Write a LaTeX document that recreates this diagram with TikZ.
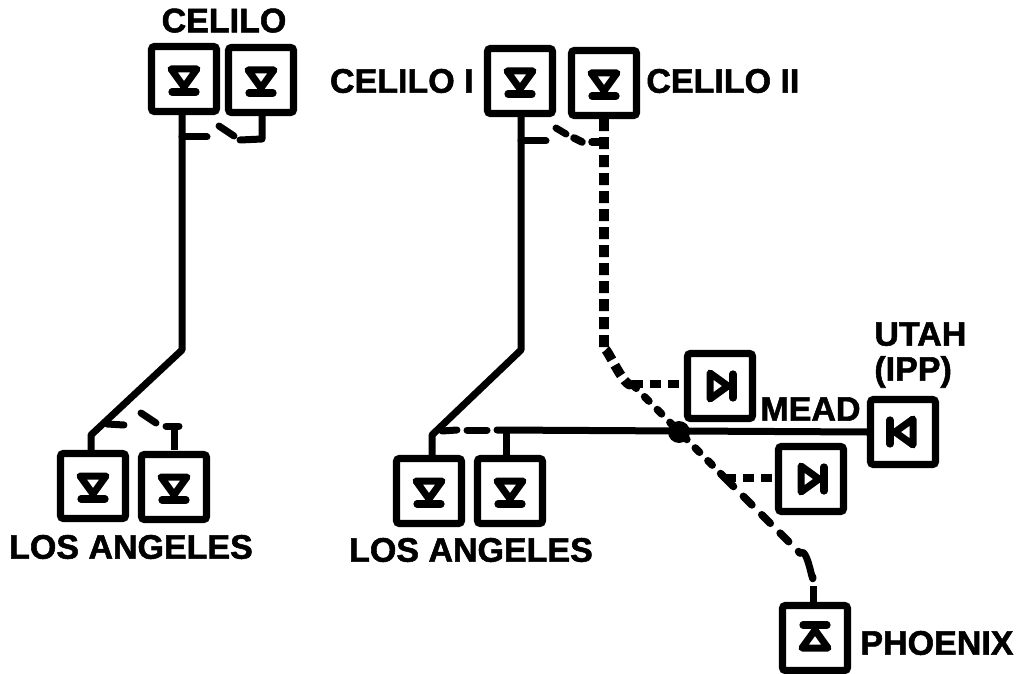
\documentclass[tikz,border=0pt]{standalone}
\usepackage{fontspec}
\setmainfont{Liberation Sans}[BoldFeatures={FakeBold=1.6}]

\begin{document}
\begin{tikzpicture}[x=0.5pt, y=-0.5pt]
    \tikzset{
      station/.style={draw=black, line width=3.6pt, rounded corners=1.5pt, minimum size=32.5pt, inner sep=0pt},
      label/.style={font=\fontsize{17}{18.5}\selectfont\bfseries, align=center, inner sep=0pt, text=black},
      line/.style={line width=3.5pt, line join=round},
      tap/.style={line width=3.5pt, line cap=round, line join=round},
      feeder/.style={line width=4.8pt, line join=round, dash pattern=on 6pt off 3pt},
      branch/.style={line width=3.6pt, dash pattern=on 5.5pt off 3.5pt},
      valve/.pic={
        \draw[line width=3.5pt, line join=round] (-13,-10) -- (13,-10) -- (0,8) -- cycle;
        \draw[line width=3.6pt, line cap=round] (-12,13) -- (12,13);
      }
    }
    \useasboundingbox (0,0) rectangle (1018,674);

    % Two terminal scheme
    \node[station] (cel1) at (184,79) {};
    \node[station] (cel2) at (261,80) {};
    \node[station] (la1) at (93,486) {};
    \node[station] (la2) at (174,487) {};
    \pic at (cel1) {valve};
    \pic at (cel2) {valve};
    \pic at (la1) {valve};
    \pic at (la2) {valve};
    \node[label, anchor=south] (celLabel) at (224,33) {CELILO};
    \node[label] (laLabel) at (131,547) {LOS ANGELES};
    \coordinate (bendA) at (182,350);
    \coordinate (bendB) at (91,435);
    \coordinate (teeA) at (182,137);
    \coordinate (teeAend) at (207,137);
    \coordinate (teeB) at (107,424);
    \coordinate (teeBend) at (124,425);
    \draw[line] (cel1.south -| teeA) -- (bendA) -- (bendB) -- (bendB |- la1.north);
    \draw[tap] (teeA) -- (teeAend);
    \draw[tap] (219,126) -- (234,136);
    \draw[tap] (240,140) -- (262,139) -- (262,116);
    \draw[tap] (teeB) -- (teeBend);
    \draw[tap] (141,413) -- (156,423);
    \draw[tap] (166,426) -- (179,426);
    \draw[line] (174,426) -- (174,450);

    % Multi terminal scheme
    \node[station] (celI) at (520,81) {};
    \node[station] (celII) at (604,83) {};
    \node[station] (lb1) at (429,491) {};
    \node[station] (lb2) at (510,491) {};
    \node[station] (mead1) at (720,386) {};
    \node[station] (mead2) at (811,479) {};
    \node[station] (utah) at (903,432) {};
    \node[station] (phx) at (815,638) {};
    \pic at (celI) {valve};
    \pic at (celII) {valve};
    \pic at (lb1) {valve};
    \pic at (lb2) {valve};
    \pic[rotate=90] at (mead1) {valve};
    \pic[rotate=90] at (mead2) {valve};
    \pic[rotate=-90] at (utah) {valve};
    \pic[rotate=180] at (phx) {valve};
    \node[label, anchor=east] (celIlabel) at (474,81) {CELILO I};
    \node[label, anchor=west] (celIIlabel) at (646,81) {CELILO II};
    \node[label] (lbLabel) at (471,550) {LOS ANGELES};
    \node[label, anchor=west] (meadLabel) at (760,409) {MEAD};
    \node[label, align=left, anchor=west] (utahLabel) at (874,355) {UTAH\\[-1pt](IPP)};
    \node[label, anchor=west] (phxLabel) at (860,643) {PHOENIX};

    \coordinate (bendC) at (521,350);
    \coordinate (bendD) at (432,435);
    \coordinate (teeC) at (521,141);
    \coordinate (teeCend) at (546,141);
    \coordinate (busStart) at (497,430);
    \coordinate (stemTop) at (506,430);
    \coordinate (junction) at (679,432);
    \coordinate (kneeA) at (604,350);
    \coordinate (kneeB) at (632,384);
    \coordinate (kneeC) at (725,478);
    \coordinate (kneeD) at (800,553);
    \coordinate (kneeE) at (813,586);
    \draw[line] (celI.south -| teeC) -- (bendC) -- (bendD) -- (bendD |- lb1.north);
    \draw[tap] (teeC) -- (teeCend);
    \draw[tap] (556,128) -- (566,134);
    \draw[tap, line width=3.8pt] (574,138) -- (582,142);
    \draw[tap, line width=3.8pt] (592,142) -- (604,142);
    \draw[line] (stemTop) -- (stemTop |- lb2.north);
    \draw[tap] (busStart) -- (utah.west |- junction);
    \draw[tap] (442,431) -- (457,430);
    \draw[tap] (467,430) -- (487,430);
    \fill[black] (junction) circle (11);

    \draw[feeder] (celII.south) -- (kneeA) to[out=90, in=-135, looseness=0.6] (kneeB);
    \draw[branch] (kneeB) -- (mead1.west |- kneeB);
    \draw[tap, line width=3.8pt, dash pattern=on 3pt off 6pt] (kneeB) -- (kneeC);
    \draw[branch] (kneeC) -- (mead2.west |- kneeC);
    \draw[tap, line width=3.8pt, dash pattern=on 6pt off 7pt] (kneeC) -- (kneeD);
    \draw[tap] (kneeD) to[out=45, in=-90] (813,577);
    \draw[line] (kneeE) -- (phx.north -| kneeE);
\end{tikzpicture}
\end{document}
